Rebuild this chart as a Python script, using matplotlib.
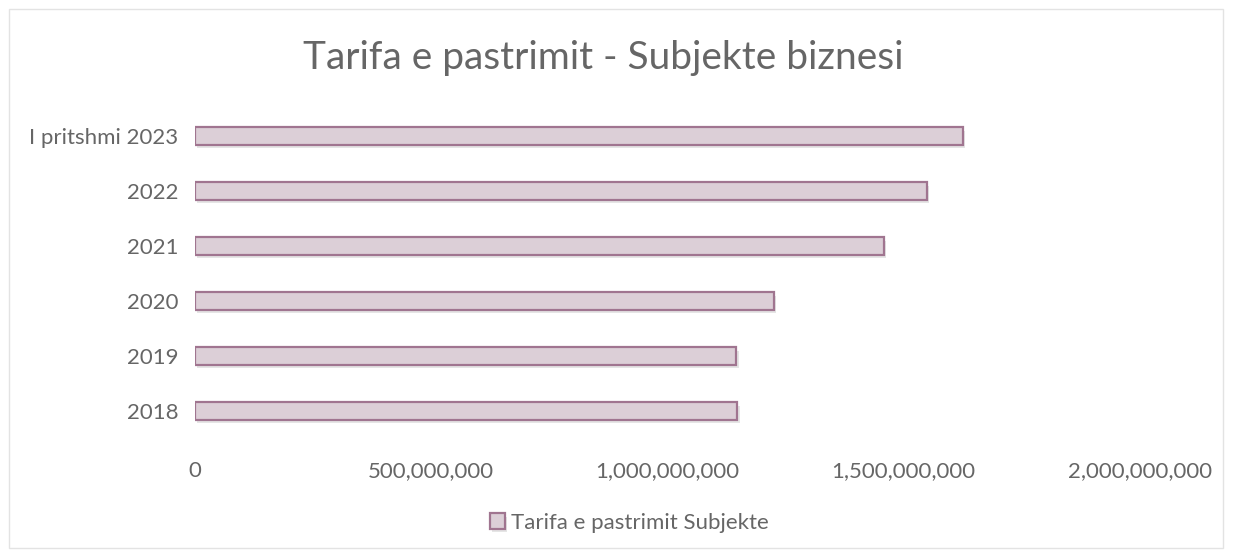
import matplotlib.pyplot as plt
import matplotlib.patheffects as pe
from matplotlib.patches import Rectangle
from matplotlib.ticker import FuncFormatter

plt.rcParams['font.family'] = ['Lato', 'DejaVu Sans']

# Data
categories = ['2018', '2019', '2020', '2021', '2022', 'I pritshmi 2023']
values = [1148e6, 1146e6, 1225e6, 1458e6, 1549e6, 1625e6]
xticks = [0, 500e6, 1000e6, 1500e6, 2000e6]

fill_col = '#dccfd7'
edge_col = '#a07590'
text_col = '#666666'

fig = plt.figure(figsize=(12.33, 5.57), dpi=100)
ax = fig.add_axes([195/1233, 1 - 438.5/557, (1140-195)/1233, 330/557])

shadow = [pe.SimplePatchShadow(offset=(1.5, -2.5), shadow_rgbFace='#000000', alpha=0.10), pe.Normal()]
bars = ax.barh(categories, values, height=0.31, color=fill_col, edgecolor=edge_col,
               linewidth=1.6, label='Tarifa e pastrimit Subjekte')
for b in bars:
    b.set_path_effects(shadow)

ax.set_xlim(0, 2000e6)
ax.set_ylim(-0.5, 5.5)
ax.set_xticks(xticks)
ax.xaxis.set_major_formatter(FuncFormatter(lambda v, p: '0' if v == 0 else f'{v:,.0f}'))
ax.tick_params(axis='x', length=0, pad=16, labelsize=16, labelcolor=text_col)
ax.tick_params(axis='y', length=0, pad=12, labelsize=16, labelcolor=text_col)
for s in ax.spines.values():
    s.set_visible(False)

fig.text(603/1233, 1 - 58/557, 'Tarifa e pastrimit - Subjekte biznesi', ha='center', va='center',
         fontsize=28, color=text_col)

leg = fig.legend(handles=[bars], labels=['Tarifa e pastrimit Subjekte'], loc='center',
                 bbox_to_anchor=(629/1233, 1 - 523/557), frameon=False, fontsize=16,
                 handlelength=0.7, handleheight=0.7, handletextpad=0.25)
for t in leg.get_texts():
    t.set_color(text_col)

fig.patches.append(Rectangle((9/1233, 9/557), 1214/1233, 539/557, transform=fig.transFigure,
                             fill=False, edgecolor='#e3e3e3', linewidth=1))

fig.savefig('out.png', dpi=100)
